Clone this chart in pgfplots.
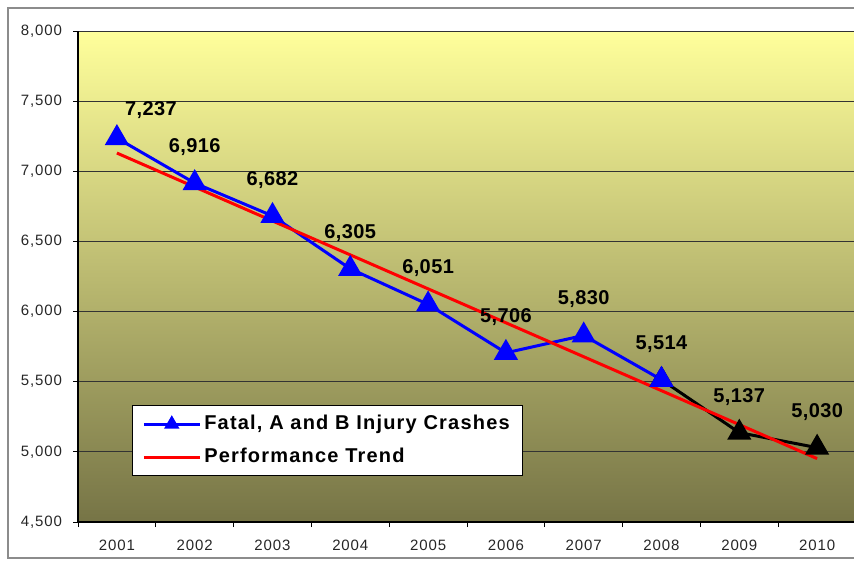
\documentclass[border=0pt]{standalone}
\usepackage{pgfplots}
\pgfplotsset{compat=1.18}
\usepackage{pgfplotstable}
\usepackage{fontspec}
\setmainfont{Liberation Sans}
\newfontfamily\tickfont[LetterSpace=6]{Liberation Sans}
\newfontfamily\lgdfont[LetterSpace=6]{Liberation Sans}
\newfontfamily\lblfont[LetterSpace=2]{Liberation Sans}
\definecolor{bgtop}{RGB}{255,255,155}
\definecolor{bgbot}{RGB}{118,116,70}
\definecolor{serblue}{RGB}{0,0,255}
\definecolor{trendred}{RGB}{255,0,0}

\pgfplotstableread{
x y lbl dx dy
1 7237 7,237 17 14
2 6916 6,916 0 18
3 6682 6,682 0 18
4 6305 6,305 0 18
5 6051 6,051 0 18
6 5706 5,706 0 18
7 5830 5,830 0 18
8 5514 5,514 0 18
9 5137 5,137 0 18
10 5030 5,030 0 18
}\crashes

\begin{document}
\begin{tikzpicture}
\draw[black!45, line width=0.6pt] (4pt,-4pt) rectangle (470pt,-279pt);
\begin{axis}[
  at={(39pt,-261pt)}, anchor=south west,
  scale only axis, width=389pt, height=245.5pt,
  xmin=0.5, xmax=10.5, ymin=4500, ymax=8000,
  xtick={1,...,10},
  xticklabels={2001,2002,2003,2004,2005,2006,2007,2008,2009,2010},
  major x tick style={draw=none},
  minor xtick={0.5,1.5,...,10.5},
  ytick={4500,5000,...,8000},
  axis x line*=bottom, axis y line*=left,
  tick align=outside,
  major tick length=2.5pt, minor tick length=2.5pt,
  tick style={black, line width=0.5pt},
  axis line style={black, line width=0.6pt},
  ymajorgrids,
  major grid style={black!80, line width=0.5pt},
  /pgf/number format/.cd, 1000 sep={,}, assume math mode=true,
  /pgfplots/.cd,
  tick label style={font=\tickfont\fontsize{7.5}{9}\selectfont, color=black!85},
  yticklabel style={xshift=-2pt},
  xticklabel style={yshift=-3pt},
  axis background/.style={shade, top color=bgtop, bottom color=bgbot},
  clip=false,
  legend style={at={(0.069,0.238)}, anchor=north west,
    font=\lgdfont\bfseries\fontsize{10}{12}\selectfont, draw=black, fill=white,
    line width=0.6pt, inner xsep=5pt, inner ysep=3pt,
    nodes={inner sep=1.5pt, text height=7.5pt, text depth=2pt}, row sep=4pt},
  legend cell align=left,
  legend image code/.code={%
    \draw[mark repeat=2, mark phase=2, line width=1.5pt, #1, mark size=3pt]
      plot coordinates {(0pt,0pt) (14pt,0pt) (28pt,0pt)};},
]
\addplot[black, line width=1.5pt, mark=triangle*, mark size=5.5pt, forget plot]
  coordinates {(8,5514) (9,5137) (10,5030)};
\addplot[serblue, line width=1.5pt, mark=triangle*, mark size=5.5pt]
  coordinates {(1,7237) (2,6916) (3,6682) (4,6305) (5,6051) (6,5706) (7,5830) (8,5514)};
\addlegendentry{Fatal, A and B Injury Crashes}
\addplot[serblue, mark=triangle*, mark size=5.5pt, only marks, forget plot]
  coordinates {(8,5514)};
\addplot[trendred, line width=1.5pt, no marks]
  coordinates {(1,7130) (10,4952)};
\addlegendentry{Performance Trend}
\addplot[draw=none, no marks, forget plot,
  point meta=explicit symbolic,
  visualization depends on={\thisrow{dx} \as \dx},
  visualization depends on={\thisrow{dy} \as \dy},
  nodes near coords,
  every node near coord/.style={anchor=center, xshift=\dx pt, yshift=\dy pt,
    font=\lblfont\bfseries\fontsize{10}{12}\selectfont, black}]
  table[x=x, y=y, meta=lbl] {\crashes};
\end{axis}
\pgfresetboundingbox
\path[use as bounding box] (0pt,0pt) rectangle (427pt,-280.5pt);
\end{tikzpicture}
\end{document}
